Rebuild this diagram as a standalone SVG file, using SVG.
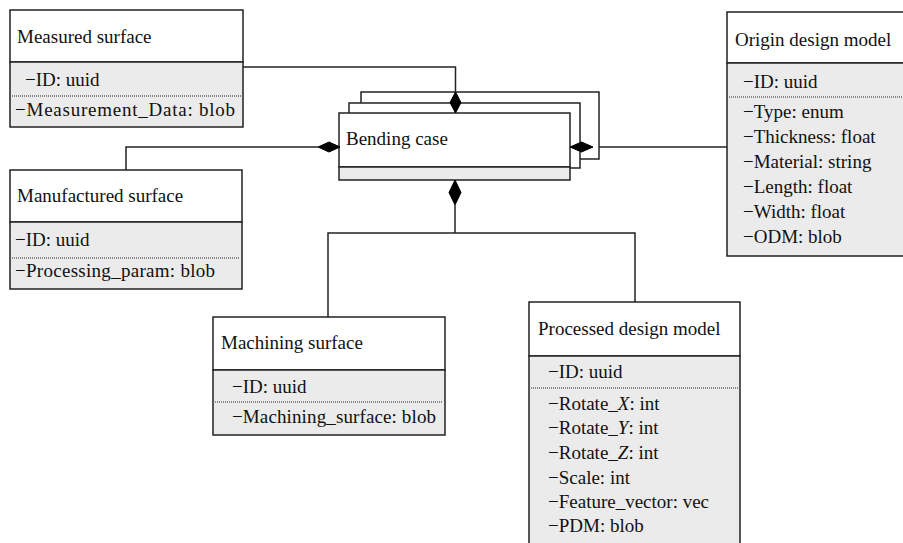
<svg xmlns="http://www.w3.org/2000/svg" width="903" height="543" viewBox="0 0 903 543">
<style>
text{font-family:"Liberation Serif","Times New Roman",serif;font-size:19px;fill:#111}
.box{fill:#fff;stroke:#222;stroke-width:1.5}
.attr{fill:#ebebeb;stroke:#222;stroke-width:1.5}
.dot{stroke:#222;stroke-width:1;stroke-dasharray:1 1}
.ln{fill:none;stroke:#222;stroke-width:1.5}
.dia{fill:#000;stroke:#000;stroke-width:1}
</style>
<rect width="903" height="543" fill="#fff"/>
<g id="connectors">
<polyline class="ln" points="243,67 455.5,67 455.5,92"/>
<polyline class="ln" points="318,147 126,147 126,170"/>
<line class="ln" x1="593" y1="147" x2="727" y2="147"/>
<polyline class="ln" points="455,205 455,233"/>
<polyline class="ln" points="328,317 328,233 635,233 635,302"/>
</g>
<g id="measured-surface">
<rect class="box" x="10" y="10" width="233" height="52"/>
<rect class="attr" x="10" y="62" width="233" height="65"/>
<line class="dot" x1="12" y1="96" x2="241" y2="96"/>
<text x="17" y="43">Measured surface</text>
<text x="25" y="86">−ID: uuid</text>
<text x="15" y="116" textLength="220" lengthAdjust="spacing">−Measurement_Data: blob</text>
</g>
<g id="origin-design-model">
<rect class="box" x="727" y="12" width="190" height="51"/>
<rect class="attr" x="727" y="63" width="190" height="193"/>
<line class="dot" x1="729" y1="97" x2="903" y2="97"/>
<text x="735" y="46">Origin design model</text>
<text x="743" y="88">−ID: uuid</text>
<text x="743" y="118">−Type: enum</text>
<text x="743" y="143">−Thickness: float</text>
<text x="743" y="168">−Material: string</text>
<text x="743" y="193">−Length: float</text>
<text x="743" y="218">−Width: float</text>
<text x="743" y="243">−ODM: blob</text>
</g>
<g id="manufactured-surface">
<rect class="box" x="10" y="170" width="232" height="52"/>
<rect class="attr" x="10" y="222" width="232" height="67"/>
<line class="dot" x1="12" y1="258" x2="240" y2="258"/>
<text x="17" y="202">Manufactured surface</text>
<text x="15" y="246">−ID: uuid</text>
<text x="15" y="277" textLength="200" lengthAdjust="spacing">−Processing_param: blob</text>
</g>
<g id="bending-case">
<rect class="box" x="361" y="92" width="238" height="67"/>
<rect class="box" x="349" y="103" width="231" height="65"/>
<rect class="box" x="339" y="113" width="231" height="54"/>
<rect class="attr" x="339" y="167" width="231" height="13"/>
<text x="346" y="145">Bending case</text>
<polygon class="dia" points="455.5,92 461,102.5 455.5,113 450,102.5"/>
<polygon class="dia" points="340,147 329,152 318,147 329,142"/>
<polygon class="dia" points="570,147 581.5,142 593,147 581.5,152"/>
<polygon class="dia" points="455,180 461,192.5 455,205 449,192.5"/>
</g>
<g id="machining-surface">
<rect class="box" x="213" y="317" width="232" height="53"/>
<rect class="attr" x="213" y="370" width="232" height="65"/>
<line class="dot" x1="215" y1="402" x2="443" y2="402"/>
<text x="221" y="349">Machining surface</text>
<text x="232" y="393">−ID: uuid</text>
<text x="232" y="423" textLength="204" lengthAdjust="spacing">−Machining_surface: blob</text>
</g>
<g id="processed-design-model">
<rect class="box" x="529" y="302" width="211" height="54"/>
<rect class="attr" x="529" y="356" width="211" height="200"/>
<line class="dot" x1="531" y1="388" x2="738" y2="388"/>
<text x="538" y="335">Processed design model</text>
<text x="548" y="378">−ID: uuid</text>
<text x="548" y="410">−Rotate_<tspan font-style="italic">X</tspan>: int</text>
<text x="548" y="434">−Rotate_<tspan font-style="italic">Y</tspan>: int</text>
<text x="548" y="459">−Rotate_<tspan font-style="italic">Z</tspan>: int</text>
<text x="548" y="484">−Scale: int</text>
<text x="548" y="508">−Feature_vector: vec</text>
<text x="548" y="532">−PDM: blob</text>
</g>
</svg>
